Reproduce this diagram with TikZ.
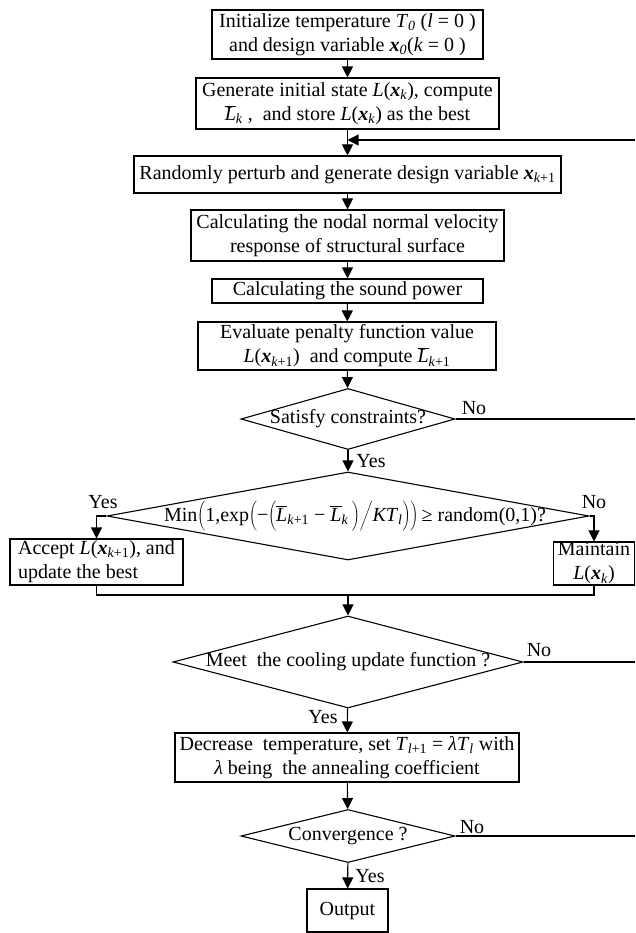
\documentclass[tikz,border=0pt]{standalone}
\usepackage{fontspec}
\setmainfont{Liberation Serif}
\usetikzlibrary{arrows.meta,shapes.geometric}
\newcommand\vx{\textbf{\textit{x}}}
\newcommand\li[1]{\textit{#1}}
\newcommand\sbs[1]{\textsubscript{#1}}
\newcommand\Lbar{\ensuremath{\overline{\hbox{\textit{L}}}}}
\newcommand\bp[1]{\ensuremath{\left#1\vcenter to 31pt{}\right.\kern-\nulldelimiterspace}}
\begin{document}
\begin{tikzpicture}[x=1pt,y=-1pt,
  font=\fontsize{20}{24}\selectfont,
  box/.style={draw, line width=1.1pt, inner sep=0pt, align=center},
  dia/.style={draw, diamond, line width=1.1pt, inner sep=0pt},
  arr/.style={line width=1.1pt, -{Triangle[length=11pt,width=11pt]}},
  ln/.style={line width=1.1pt},
  lab/.style={inner sep=0pt, align=center}]
\useasboundingbox (0,0) rectangle (635,933);

\node[box, minimum width=271pt, minimum height=49pt] (b1) at (347.5,34.5)
  {Initialize temperature \li{T}\sbs{\li{0}} (\li{l} = 0 )\\ and design variable \vx\sbs{\li{0}}(\li{k} = 0 )};
\node[box, minimum width=303pt, minimum height=51pt] (b2) at (347.5,103.5)
  {Generate initial state \li{L}(\vx\sbs{\li{k}}), compute\\ \Lbar\sbs{\li{k}} ,\ \ and store \li{L}(\vx\sbs{\li{k}}) as the best};
\node[box, minimum width=427pt, minimum height=37pt] (b3) at (347.5,174.5)
  {Randomly perturb and generate design variable \vx\sbs{\li{k}+1}};
\node[box, minimum width=313pt, minimum height=51pt] (b4) at (347.5,235.5)
  {Calculating the nodal normal velocity\\ response of structural surface};
\node[box, minimum width=271pt, minimum height=24pt] (b5) at (347.5,291)
  {Calculating the sound power};
\node[box, minimum width=298pt, minimum height=48pt] (b6) at (347,346)
  {Evaluate penalty function value\\ \li{L}(\vx\sbs{\li{k}+1})\ \ and compute \Lbar\sbs{\li{k}+1}};
\node[dia, minimum width=214pt, minimum height=61pt] (d1) at (348,419) {};
\node[lab] (d1t) at (d1) {Satisfy constraints?};
\node[dia, minimum width=482pt, minimum height=88pt] (d2) at (348,516) {};
\node[lab] (d2t) at (355,516)
  {Min\bp(1,exp\bp(−\bp(\Lbar\sbs{\li{k}+1} − \Lbar\sbs{\li{k}}\,\bp)\bp/\li{KT}\sbs{\li{l}}\bp)\bp)\,≥ random(0,1)?};
\node[box, minimum width=173pt, minimum height=46pt, align=left] (acc) at (96.5,562)
  {Accept \li{L}(\vx\sbs{\li{k}+1}), and\\ update the best};
\node[box, minimum width=81pt, minimum height=43pt] (mnt) at (594,563.5)
  {Maintain\\ \li{L}(\vx\sbs{\li{k}})};
\node[dia, minimum width=350pt, minimum height=92pt] (d3) at (348,662) {};
\node[lab] (d3t) at (d3) {Meet\ \ the cooling update function ?};
\node[box, minimum width=344pt, minimum height=49pt] (b7) at (347,757.5)
  {Decrease\ \ temperature, set \li{T}\sbs{\li{l}+1} = \li{λT}\sbs{\li{l}} with\\ \li{λ} being\ \ the annealing coefficient};
\node[dia, minimum width=214pt, minimum height=53pt] (d4) at (348,836) {};
\node[lab] (d4t) at (d4) {Convergence ?};
\node[box, minimum width=81pt, minimum height=43pt] (out) at (347.5,910.5) {Output};

% labels
\node[lab] (l1) at (474,408) {No};
\node[lab] (l2) at (371,461) {Yes};
\node[lab] (l3) at (103,502) {Yes};
\node[lab] (l4) at (594,502) {No};
\node[lab] (l5) at (539,650) {No};
\node[lab] (l6) at (323,717) {Yes};
\node[lab] (l7) at (472,827) {No};
\node[lab] (l8) at (370,876) {Yes};

% coordinates
\coordinate (fbR) at (635,140);
\coordinate (m) at (348,595);

% connectors
\draw[arr] (b1) -- (b2);
\draw[arr] (b2) -- (b3);
\draw[arr] (fbR) -- (b2.south |- fbR);
\draw[arr] (b3) -- (b4);
\draw[arr] (b4) -- (b5);
\draw[arr] (b5) -- (b6);
\draw[arr] (b6) -- (d1);
\draw[arr] (d1) -- (d2);
\draw[ln] (d1.east) -- (d1.east -| fbR);
\draw[arr] (d2.west) -| (acc.north);
\draw[arr] (d2.east) -| (mnt.north);
\draw[ln] (acc.south) |- (m) -| (mnt.south);
\draw[arr] (m) -- (d3.north);
\draw[ln] (d3.east) -- (d3.east -| fbR);
\draw[arr] (d3) -- (b7);
\draw[arr] (b7) -- (d4);
\draw[ln] (d4.east) -- (d4.east -| fbR);
\draw[arr] (d4) -- (out);
\end{tikzpicture}
\end{document}
